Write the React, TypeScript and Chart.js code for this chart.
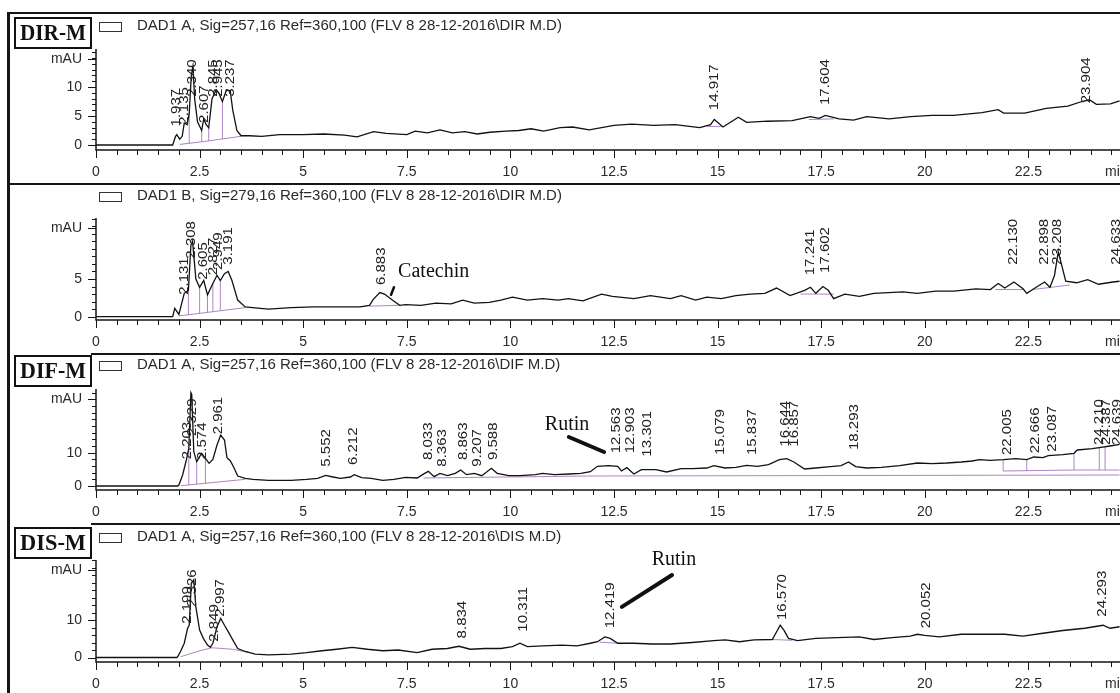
import React, { useEffect, useRef } from "react";
import { Chart, registerables } from "chart.js";

Chart.register(...registerables);

type Pt = [number, number];
type BasePt = Pt | null;

// ---------- shared axis data ----------
const X_MAX = 24.71;
const X_TICK_LABELS = ["0", "2.5", "5", "7.5", "10", "12.5", "15", "17.5", "20", "22.5"];

// ---------- Panel 1: DIR-M, DAD1 A ----------
const DIR_A_TITLE = "DAD1 A, Sig=257,16 Ref=360,100 (FLV 8 28-12-2016\\DIR M.D)";
const DIR_A_YTICKS = ["0", "5", "10"];
const DIR_A_TRACE: Pt[] = [
  [0, 0], [1.85, 0], [1.92, 1.5], [1.95, 1.8], [2.02, 1.0], [2.08, 1.5], [2.13, 3.8], [2.2, 3.5], [2.25, 5.5], [2.3, 12.0],
  [2.34, 13.6], [2.38, 8.0], [2.45, 4.0], [2.55, 2.5], [2.6, 4.5], [2.66, 3.5], [2.72, 3.0], [2.8, 8.0], [2.9, 9.5], [2.96, 9.0],
  [3.05, 7.5], [3.15, 9.5], [3.24, 9.3], [3.3, 6.0], [3.4, 2.5], [3.5, 1.6], [3.7, 1.6], [4.0, 1.5], [4.43, 1.8], [5.0, 1.8],
  [5.5, 1.9], [6.0, 1.7], [6.3, 1.4], [6.7, 2.3], [7.0, 2.0], [7.5, 1.8], [7.7, 2.4], [8.0, 2.1], [8.3, 2.6], [8.6, 2.1],
  [8.9, 2.3], [9.2, 1.9], [9.5, 2.2], [9.9, 2.4], [10.2, 2.5], [10.5, 2.8], [10.8, 2.4], [11.2, 3.0], [11.5, 3.1], [11.9, 2.6],
  [12.5, 3.4], [12.93, 3.6], [13.45, 3.4], [13.97, 3.5], [14.57, 3.0], [14.83, 3.5], [14.92, 4.4], [15.13, 3.1], [15.5, 4.8], [15.7, 3.9],
  [16.2, 4.1], [16.8, 4.2], [17.24, 4.9], [17.45, 4.6], [17.6, 5.1], [17.93, 4.5], [18.28, 4.3], [18.6, 4.9], [19.14, 4.5], [19.66, 4.9],
  [20.17, 5.1], [20.69, 5.1], [21.38, 5.6], [21.77, 6.1], [21.9, 5.5], [22.41, 5.5], [22.93, 6.3], [23.45, 6.7], [23.79, 7.5], [23.97, 7.8],
  [24.14, 7.0], [24.48, 7.1], [24.7, 7.6],
];
const DIR_A_BASE: BasePt[] = [
  [2.02, 0.1], [2.6, 0.6], [3.5, 1.5], null,
  [2.25, 0.3], [2.25, 5.5], null, [2.55, 0.55], [2.55, 2.5], null,
  [2.72, 0.7], [2.72, 3.0], null, [3.05, 1.0], [3.05, 7.5], null,
  [14.75, 3.2], [15.1, 3.2], null, [17.2, 4.4], [17.8, 4.5],
];
const DIR_A_PEAKS = ["1.937", "2.135", "2.340", "2.607", "2.845", "2.945", "3.237", "14.917", "17.604", "23.904"];
const DIR_A_PEAK_TOPS = [3.2, 3.5, 8.3, 3.8, 8.3, 8.3, 8.3, 6.0, 6.9, 7.2];

// ---------- Panel 2: DIR-M, DAD1 B ----------
const DIR_B_TITLE = "DAD1 B, Sig=279,16 Ref=360,100 (FLV 8 28-12-2016\\DIR M.D)";
const DIR_B_YTICKS = ["0", "5"];
const DIR_B_TRACE: Pt[] = [
  [0, 0], [1.85, 0], [1.9, 1.1], [2.0, 0.3], [2.13, 3.1], [2.23, 3.5], [2.29, 9.5], [2.33, 10.0], [2.41, 5.0], [2.5, 3.9],
  [2.6, 4.8], [2.69, 2.9], [2.82, 4.4], [2.92, 5.5], [3.0, 4.8], [3.1, 5.7], [3.19, 6.0], [3.28, 4.8], [3.42, 2.2], [3.6, 1.3],
  [3.97, 1.1], [4.16, 1.0], [4.71, 1.2], [5.26, 1.3], [5.81, 1.3], [6.37, 1.3], [6.6, 1.5], [6.69, 2.3], [6.85, 3.2], [6.96, 3.0],
  [7.15, 2.2], [7.33, 1.5], [7.47, 1.6], [7.84, 1.5], [8.2, 1.8], [8.57, 1.7], [8.85, 2.2], [9.13, 1.8], [9.49, 1.9], [9.77, 2.2],
  [10.05, 2.6], [10.41, 2.2], [10.78, 2.4], [11.15, 2.2], [11.4, 2.4], [11.75, 2.1], [12.2, 3.0], [12.46, 2.7], [12.98, 2.4], [13.38, 2.8],
  [13.86, 2.4], [14.12, 2.8], [14.47, 2.2], [14.74, 2.6], [15.09, 2.4], [15.44, 2.8], [15.79, 3.0], [16.14, 3.1], [16.42, 3.8], [16.75, 2.8],
  [17.1, 3.5], [17.24, 3.9], [17.37, 3.1], [17.54, 4.0], [17.67, 3.5], [17.8, 2.4], [18.07, 3.0], [18.42, 2.7], [18.77, 3.1], [19.12, 3.2],
  [19.47, 3.3], [19.82, 3.1], [20.26, 3.4], [20.7, 3.4], [21.23, 3.7], [21.58, 3.6], [21.77, 4.4], [21.93, 3.8], [22.15, 4.6], [22.37, 3.7],
  [22.46, 3.1], [22.63, 3.7], [22.89, 4.6], [23.02, 3.9], [23.13, 5.5], [23.22, 8.6], [23.3, 6.9], [23.4, 4.7], [23.66, 4.5], [23.93, 4.9],
  [24.19, 4.3], [24.54, 4.6], [24.7, 4.7],
];
const DIR_B_BASE: BasePt[] = [
  [2.0, 0.1], [3.6, 1.2], null,
  [2.23, 0.25], [2.23, 3.5], null, [2.5, 0.45], [2.5, 3.9], null,
  [2.69, 0.6], [2.69, 2.9], null, [2.82, 0.7], [2.82, 4.4], null,
  [3.0, 0.85], [3.0, 4.8], null, [6.6, 1.4], [7.3, 1.5], null,
  [17.0, 3.0], [17.8, 3.0], null, [21.7, 3.6], [22.4, 3.6], null,
  [22.6, 3.6], [23.5, 4.2],
];
const DIR_B_PEAKS = ["2.131", "2.308", "2.605", "2.827", "2.949", "3.191", "6.883", "17.241", "17.602", "22.130", "22.898", "23.208", "24.633"];
const DIR_B_PEAK_TOPS = [2.9, 7.7, 4.9, 5.5, 6.2, 6.9, 4.2, 5.5, 5.8, 6.9, 6.9, 6.9, 6.9];

// ---------- Panel 3: DIF-M, DAD1 A ----------
const DIF_A_TITLE = "DAD1 A, Sig=257,16 Ref=360,100 (FLV 8 28-12-2016\\DIF M.D)";
const DIF_A_YTICKS = ["0", "10"];
const DIF_A_TRACE: Pt[] = [
  [0, 0], [1.97, 0], [2.0, 0.3], [2.09, 3.3], [2.18, 7.8], [2.24, 11.3], [2.29, 28.0], [2.31, 27.5], [2.36, 10.3], [2.43, 7.3],
  [2.5, 8.8], [2.55, 9.8], [2.64, 8.3], [2.73, 6.8], [2.82, 8.0], [2.92, 12.3], [3.01, 15.3], [3.1, 13.8], [3.16, 8.5], [3.24, 7.6],
  [3.33, 5.5], [3.42, 3.0], [3.6, 2.3], [3.79, 2.0], [4.16, 1.7], [4.71, 1.7], [5.08, 2.0], [5.35, 2.3], [5.54, 3.2], [5.72, 2.7],
  [5.9, 2.3], [6.14, 2.7], [6.23, 3.4], [6.41, 2.5], [6.64, 2.3], [6.92, 1.7], [7.19, 2.0], [7.47, 2.6], [7.75, 2.4], [7.93, 3.8],
  [8.02, 4.4], [8.16, 2.8], [8.3, 3.8], [8.48, 3.1], [8.67, 3.8], [8.8, 4.8], [8.94, 3.4], [9.13, 3.8], [9.31, 3.1], [9.54, 5.3],
  [9.68, 3.8], [9.96, 3.1], [10.23, 3.1], [10.6, 3.4], [10.78, 3.8], [11.06, 3.4], [11.43, 3.6], [11.7, 3.8], [11.93, 4.3], [12.1, 5.9],
  [12.37, 6.1], [12.59, 5.9], [12.68, 4.5], [12.81, 5.5], [12.9, 4.5], [12.98, 3.6], [13.16, 4.9], [13.51, 4.9], [13.77, 4.2], [14.12, 5.2],
  [14.39, 5.2], [14.74, 5.4], [14.91, 6.1], [15.18, 5.4], [15.44, 5.6], [15.7, 6.2], [15.96, 5.9], [16.23, 6.4], [16.49, 7.9], [16.67, 8.2],
  [16.84, 7.2], [17.1, 5.1], [17.37, 5.4], [17.72, 5.8], [17.98, 6.1], [18.16, 7.2], [18.33, 5.8], [18.6, 5.4], [18.95, 5.6], [19.39, 6.1],
  [19.82, 6.9], [20.18, 6.7], [20.53, 6.9], [20.88, 7.2], [21.14, 7.5], [21.32, 7.9], [21.58, 7.7], [21.89, 7.9], [22.2, 8.2], [22.46, 7.9],
  [22.63, 8.7], [22.85, 8.5], [22.98, 9.1], [23.33, 9.4], [23.6, 9.8], [23.68, 10.8], [24.04, 11.2], [24.21, 11.5], [24.47, 12.0], [24.7, 12.5],
];
const DIF_A_BASE: BasePt[] = [
  [2.05, 0.1], [3.6, 2.0], null,
  [2.24, 0.3], [2.24, 11.3], null, [2.43, 0.5], [2.43, 7.3], null,
  [2.64, 0.8], [2.64, 8.3], null, [7.9, 2.4], [11.9, 3.0], [24.7, 3.3], null,
  [21.89, 4.5], [23.6, 4.8], [24.7, 4.8], null,
  [21.89, 4.5], [21.89, 7.9], null, [22.46, 4.6], [22.46, 7.9], null,
  [23.6, 4.8], [23.6, 9.8], null, [24.21, 4.8], [24.21, 11.5], null,
  [24.35, 4.8], [24.35, 11.7],
];
const DIF_A_PEAKS = [
  "2.203", "2.329", "2.574", "2.961", "5.552", "6.212", "8.033", "8.363", "8.863", "9.207", "9.588",
  "12.563", "12.903", "13.301", "15.079", "15.837", "16.644", "16.857", "18.293", "22.005", "22.666", "23.087",
  "24.210", "24.387", "24.639",
];
const DIF_A_PEAK_TOPS = [
  8.0, 15.0, 7.8, 15.5, 5.8, 6.3, 7.8, 5.8, 7.8, 5.8, 7.8,
  9.8, 9.8, 8.8, 9.3, 9.3, 11.8, 11.8, 10.8, 9.3, 9.8, 10.3,
  12.3, 12.3, 12.3,
];

// ---------- Panel 4: DIS-M, DAD1 A ----------
const DIS_A_TITLE = "DAD1 A, Sig=257,16 Ref=360,100 (FLV 8 28-12-2016\\DIS M.D)";
const DIS_A_YTICKS = ["0", "10"];
const DIS_A_TRACE: Pt[] = [
  [0, 0], [1.95, 0], [1.97, 0.2], [2.04, 1.6], [2.13, 3.8], [2.21, 7.8], [2.25, 8.6], [2.3, 19.8], [2.36, 20.7], [2.41, 13.5],
  [2.5, 7.3], [2.59, 5.1], [2.69, 3.3], [2.76, 2.7], [2.82, 3.8], [2.92, 8.2], [3.01, 10.4], [3.1, 8.6], [3.19, 6.9], [3.28, 5.1],
  [3.42, 2.4], [3.6, 1.6], [3.84, 0.9], [4.16, 0.7], [4.71, 0.9], [5.08, 1.3], [5.45, 1.8], [5.81, 2.2], [6.18, 2.7], [6.55, 2.2],
  [6.92, 1.8], [7.29, 2.0], [7.75, 1.3], [8.11, 2.2], [8.48, 2.4], [8.76, 3.0], [9.03, 2.2], [9.4, 2.4], [9.77, 2.4], [10.05, 2.9],
  [10.23, 3.8], [10.41, 2.9], [10.78, 3.1], [11.24, 3.3], [11.61, 3.1], [11.93, 3.8], [12.1, 4.2], [12.28, 5.5], [12.41, 5.1], [12.59, 3.8],
  [12.98, 3.8], [13.42, 3.6], [13.86, 3.6], [14.39, 4.0], [14.91, 4.5], [15.18, 4.7], [15.53, 4.2], [15.88, 4.7], [16.32, 4.8], [16.42, 6.8],
  [16.51, 8.6], [16.6, 7.3], [16.71, 5.1], [16.93, 4.5], [17.37, 5.1], [17.89, 5.3], [18.42, 5.5], [18.77, 4.8], [19.21, 5.3], [19.65, 5.7],
  [19.82, 6.2], [20.0, 5.9], [20.35, 5.5], [20.88, 6.2], [21.4, 6.2], [21.93, 6.2], [22.37, 5.7], [22.81, 6.4], [23.33, 7.2], [23.86, 7.8],
  [24.3, 8.6], [24.47, 7.8], [24.7, 8.2],
];
const DIS_A_BASE: BasePt[] = [
  [2.04, 0.2], [2.5, 1.8], [2.8, 2.6], [3.3, 2.2], [3.7, 1.3], null,
  [12.15, 4.1], [12.6, 3.8], null, [16.3, 4.8], [16.8, 4.6],
];
const DIS_A_PEAKS = ["2.199", "2.326", "2.849", "2.997", "8.834", "10.311", "12.419", "16.570", "20.052", "24.293"];
const DIS_A_PEAK_TOPS = [9.0, 13.5, 4.2, 10.9, 5.1, 6.9, 7.8, 10.0, 7.8, 10.9];

// ---------- layout ----------
const SANS = '"Liberation Sans", Arial, Helvetica, sans-serif';
const SERIF = '"Liberation Serif", "Times New Roman", Times, serif';

interface Note {
  text: string;
  t: number;
  v: number;
  line: [number, number, number, number];
  width: number;
}

interface PanelCfg {
  top: number;
  height: number;
  padTop: number;
  padBottom: number;
  yMin: number;
  yMax: number;
  yMinor: number;
  yTicks: string[];
  trace: Pt[];
  base: BasePt[];
  peaks: string[];
  peakTops: number[];
  title: string;
  sample: string;
  titleY: number;
  boxY: number;
  sepStart: number;
  notes: Note[];
}

const PANELS: PanelCfg[] = [
  {
    top: 12, height: 171, padTop: 37, padBottom: 33, yMin: -0.86, yMax: 16.55, yMinor: 1,
    yTicks: DIR_A_YTICKS, trace: DIR_A_TRACE, base: DIR_A_BASE, peaks: DIR_A_PEAKS, peakTops: DIR_A_PEAK_TOPS,
    title: DIR_A_TITLE, sample: "DIR-M", titleY: 14, boxY: 6, sepStart: 7, notes: [],
  },
  {
    top: 183, height: 170, padTop: 35, padBottom: 33, yMin: -0.44, yMax: 13.09, yMinor: 1,
    yTicks: DIR_B_YTICKS, trace: DIR_B_TRACE, base: DIR_B_BASE, peaks: DIR_B_PEAKS, peakTops: DIR_B_PEAK_TOPS,
    title: DIR_B_TITLE, sample: "", titleY: 13, boxY: 0, sepStart: 7,
    notes: [{ text: "Catechin", t: 7.29, v: 5.9, line: [7.19, 3.9, 7.12, 2.9], width: 2.5 }],
  },
  {
    top: 353, height: 170, padTop: 36, padBottom: 33, yMin: -1.2, yMax: 29.1, yMinor: 2,
    yTicks: DIF_A_YTICKS, trace: DIF_A_TRACE, base: DIF_A_BASE, peaks: DIF_A_PEAKS, peakTops: DIF_A_PEAK_TOPS,
    title: DIF_A_TITLE, sample: "DIF-M", titleY: 12, boxY: 3, sepStart: 91,
    notes: [{ text: "Rutin", t: 10.83, v: 18.3, line: [11.41, 14.7, 12.26, 10.2], width: 4 }],
  },
  {
    top: 523, height: 170, padTop: 37, padBottom: 31, yMin: -1.2, yMax: 26, yMinor: 2,
    yTicks: DIS_A_YTICKS, trace: DIS_A_TRACE, base: DIS_A_BASE, peaks: DIS_A_PEAKS, peakTops: DIS_A_PEAK_TOPS,
    title: DIS_A_TITLE, sample: "DIS-M", titleY: 14, boxY: 5, sepStart: 91,
    notes: [{ text: "Rutin", t: 13.41, v: 26.0, line: [13.9, 22, 12.69, 13.5], width: 4 }],
  },
];

function makePlugin(p: PanelCfg) {
  return {
    id: "chemstationDecor",
    afterDatasetsDraw(chart: any) {
      const ctx = chart.ctx as CanvasRenderingContext2D;
      const ca = chart.chartArea;
      const xs = chart.scales.x;
      const ys = chart.scales.y;
      const W = chart.width;
      const H = chart.height;
      ctx.save();

      // frame: left border + top separator
      ctx.fillStyle = "#161616";
      ctx.fillRect(7, 0, 3, H);
      ctx.fillRect(p.sepStart, 0, W - p.sepStart, 2);

      // axes lines
      ctx.strokeStyle = "#161616";
      ctx.lineWidth = 1.5;
      ctx.beginPath();
      ctx.moveTo(ca.left, ca.top);
      ctx.lineTo(ca.left, ca.bottom);
      ctx.lineTo(W, ca.bottom);
      ctx.stroke();

      // tick marks
      ctx.lineWidth = 1;
      ctx.beginPath();
      for (let i = 0; i * 0.5 <= X_MAX + 1e-6; i++) {
        const x = Math.round(xs.getPixelForValue(i * 0.5)) + 0.5;
        ctx.moveTo(x, ca.bottom);
        ctx.lineTo(x, ca.bottom + (i % 5 === 0 ? 8 : 5));
      }
      for (let v = 0; v <= p.yMax + 1e-6; v += p.yMinor) {
        const y = Math.round(ys.getPixelForValue(v)) + 0.5;
        ctx.moveTo(ca.left - 4, y);
        ctx.lineTo(ca.left, y);
      }
      p.yTicks.forEach((s) => {
        const y = Math.round(ys.getPixelForValue(parseFloat(s))) + 0.5;
        ctx.moveTo(ca.left - 8, y);
        ctx.lineTo(ca.left, y);
      });
      const mauY = Math.round(ca.top + 9.5) + 0.5;
      ctx.moveTo(ca.left - 8, mauY);
      ctx.lineTo(ca.left, mauY);
      ctx.stroke();

      // tick labels
      ctx.fillStyle = "#2a2a2a";
      ctx.font = `14px ${SANS}`;
      ctx.textAlign = "center";
      ctx.textBaseline = "middle";
      X_TICK_LABELS.forEach((s) => {
        ctx.fillText(s, xs.getPixelForValue(parseFloat(s)), ca.bottom + 22);
      });
      ctx.textAlign = "left";
      ctx.fillText("min", 1105, ca.bottom + 22);
      ctx.textAlign = "right";
      p.yTicks.forEach((s) => {
        ctx.fillText(s, ca.left - 14, ys.getPixelForValue(parseFloat(s)));
      });
      ctx.fillText("mAU", ca.left - 14, mauY);

      // title + legend swatch
      ctx.textAlign = "left";
      ctx.font = `15px ${SANS}`;
      ctx.fillText(p.title, 137, p.titleY);
      ctx.strokeStyle = "#333";
      ctx.lineWidth = 1;
      ctx.strokeRect(99.5, Math.round(p.titleY - 4.5) + 0.5, 22, 9);

      // sample name box
      if (p.sample) {
        const bx = 15, bw = 76, bh = 30, by = p.boxY;
        ctx.fillStyle = "#fff";
        ctx.fillRect(bx, by, bw, bh);
        ctx.strokeStyle = "#111";
        ctx.lineWidth = 2;
        ctx.strokeRect(bx, by, bw, bh);
        ctx.fillStyle = "#111";
        ctx.font = `bold 24px ${SERIF}`;
        ctx.textAlign = "center";
        ctx.textBaseline = "middle";
        const w = ctx.measureText(p.sample).width;
        const s = w > 66 ? 66 / w : 1;
        ctx.save();
        ctx.translate(bx + bw / 2, by + bh / 2 + 1);
        ctx.scale(s, 1);
        ctx.fillText(p.sample, 0, 0);
        ctx.restore();
      }

      // peak retention-time labels
      ctx.fillStyle = "#222";
      ctx.font = `15px ${SANS}`;
      ctx.textAlign = "left";
      ctx.textBaseline = "middle";
      p.peaks.forEach((s, i) => {
        const x = xs.getPixelForValue(parseFloat(s));
        const y = ys.getPixelForValue(p.peakTops[i]);
        ctx.save();
        ctx.translate(x, y);
        ctx.rotate(-Math.PI / 2);
        ctx.scale(1, 0.85);
        ctx.fillText(s, 0, 0);
        ctx.restore();
      });

      // annotations
      p.notes.forEach((n) => {
        ctx.fillStyle = "#111";
        ctx.font = `20px ${SERIF}`;
        ctx.textAlign = "left";
        ctx.textBaseline = "middle";
        ctx.fillText(n.text, xs.getPixelForValue(n.t), ys.getPixelForValue(n.v));
        ctx.strokeStyle = "#111";
        ctx.lineWidth = n.width;
        ctx.lineCap = "round";
        ctx.beginPath();
        ctx.moveTo(xs.getPixelForValue(n.line[0]), ys.getPixelForValue(n.line[1]));
        ctx.lineTo(xs.getPixelForValue(n.line[2]), ys.getPixelForValue(n.line[3]));
        ctx.stroke();
      });

      ctx.restore();
    },
  };
}

function toPoints(arr: BasePt[]) {
  let lastX = 0;
  return arr.map((p) => {
    if (!p) return { x: lastX, y: null as any };
    lastX = p[0];
    return { x: p[0], y: p[1] };
  });
}

export default function App() {
  const refs = useRef<(HTMLCanvasElement | null)[]>([]);

  useEffect(() => {
    const charts: Chart[] = [];
    PANELS.forEach((p, i) => {
      const canvas = refs.current[i];
      if (!canvas) return;
      const chart = new Chart(canvas, {
        type: "line",
        data: {
          datasets: [
            {
              data: toPoints(p.trace) as any,
              borderColor: "#121212",
              borderWidth: 1.3,
              pointRadius: 0,
              tension: 0,
              fill: false,
              order: 1,
            },
            {
              data: toPoints(p.base) as any,
              borderColor: "rgba(160, 110, 185, 0.85)",
              borderWidth: 1,
              pointRadius: 0,
              tension: 0,
              fill: false,
              spanGaps: false,
              order: 2,
            },
          ],
        },
        options: {
          animation: false,
          responsive: false,
          devicePixelRatio: 1,
          events: [],
          layout: {
            autoPadding: false,
            padding: { left: 96, right: 0, top: p.padTop, bottom: p.padBottom },
          },
          scales: {
            x: { type: "linear", min: 0, max: X_MAX, display: false },
            y: { type: "linear", min: p.yMin, max: p.yMax, display: false },
          },
          plugins: {
            legend: { display: false },
            tooltip: { enabled: false },
            title: { display: false },
          },
        },
        plugins: [makePlugin(p)],
      } as any);
      charts.push(chart);
    });
    return () => charts.forEach((c) => c.destroy());
  }, []);

  return (
    <div
      style={{
        position: "fixed",
        left: 0,
        top: 0,
        width: 1120,
        height: 693,
        background: "#fff",
        overflow: "hidden",
      }}
    >
      {PANELS.map((p, i) => (
        <canvas
          key={i}
          ref={(el) => {
            refs.current[i] = el;
          }}
          width={1120}
          height={p.height}
          style={{ position: "absolute", left: 0, top: p.top, width: 1120, height: p.height }}
        />
      ))}
    </div>
  );
}
